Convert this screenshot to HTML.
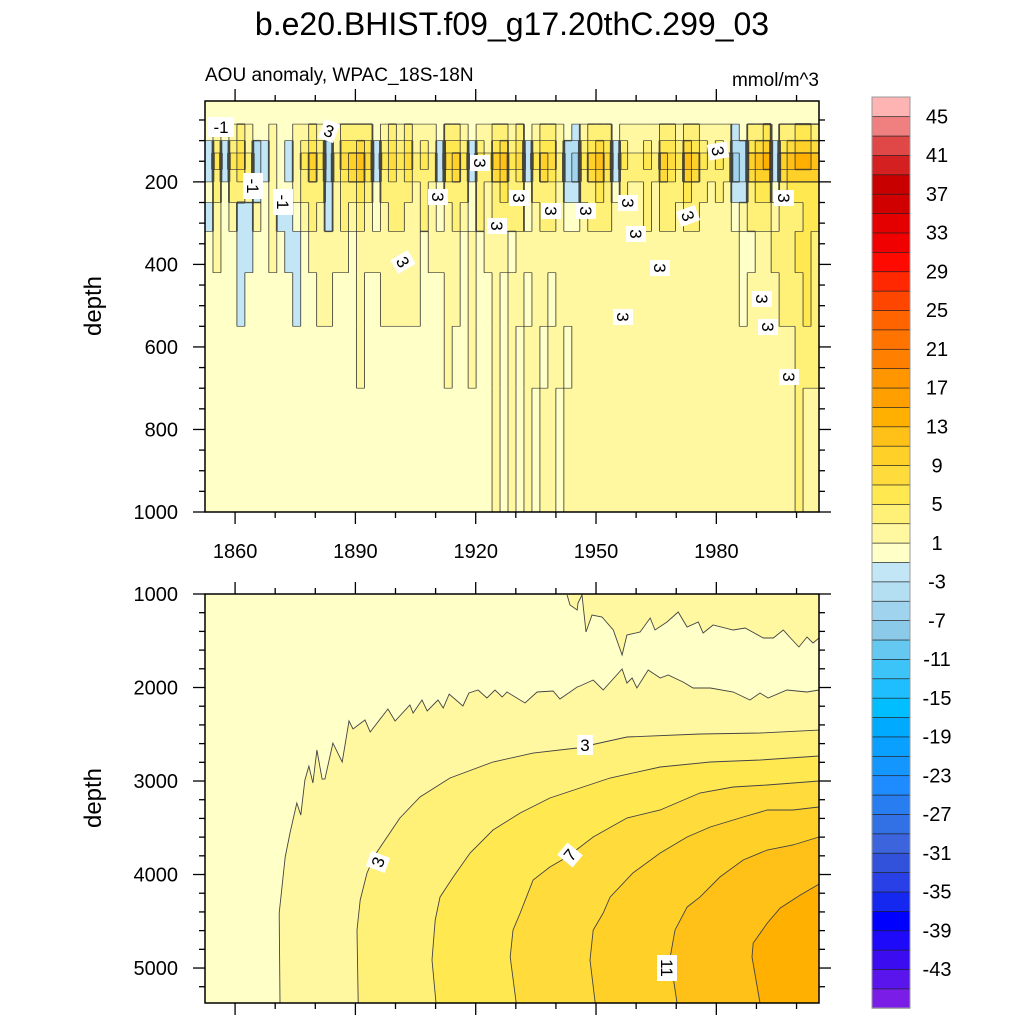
<!DOCTYPE html>
<html><head><meta charset="utf-8"><title>AOU anomaly</title>
<style>
html,body{margin:0;padding:0;background:#fff;}
svg{display:block;font-family:"Liberation Sans",sans-serif;}
</style></head>
<body>
<svg id="chart" width="1024" height="1024" viewBox="0 0 1024 1024" xmlns="http://www.w3.org/2000/svg">
<text x="512" y="35" font-size="32" text-anchor="middle">b.e20.BHIST.f09_g17.20thC.299_03</text>
<text x="205" y="81" font-size="19">AOU anomaly, WPAC_18S-18N</text>
<text x="819" y="86" font-size="19" text-anchor="end">mmol/m^3</text>
<text transform="translate(101,306) rotate(-90)" font-size="24" text-anchor="middle">depth</text>
<text transform="translate(101,798) rotate(-90)" font-size="24" text-anchor="middle">depth</text>
<g id="topPanel"></g>
<g id="botPanel"></g>
<g id="cbar"></g>
</svg>
<script>
// ---------- data ----------
const levelColors = ["#7A1DE6","#5A14EC","#3C0CF0","#1E0AF8","#0000FF","#1428F0","#2840E6","#3252DC","#3C64DC","#3270E6","#287DF0","#1E8CFF","#1496FF","#0AA0FF","#00AAFF","#00BEFF","#1EBEFF","#3CC4F8","#64C8F0","#8CCAEA","#A0D4EE","#B4DEF2","#C2E6F6","#FFFFC8","#FFF8A0","#FFF078","#FFE850","#FFDC3C","#FFD028","#FFC018","#FFB000","#FFA000","#FF9600","#FF8000","#FF7300","#FF6400","#FF4600","#FF2800","#FF0A00","#F00000","#E40000","#D00000","#C80000","#D42020","#E04848","#F08080","#FFB4B4"];
const colorbarLabels = [-43,-39,-35,-31,-27,-23,-19,-15,-11,-7,-3,1,5,9,13,17,21,25,29,33,37,41,45];
const yearTicks = [1860,1890,1920,1950,1980];
const topDepthTicks = [200,400,600,800,1000];
const botDepthTicks = [1000,2000,3000,4000,5000];
const topDepthBounds = [4,60,100,130,170,200,250,320,420,550,700,1000];
const topRow0 = [0,0,0,0,0,0,0,0,0,0,0,0,0,0,0,0,0,0,0,0,0,0,0,0,0,0,0,0,0,0,0,0,0,0,0,0,0,0,0,0,0,0,0,0,0,0,0,0,0,0,0,0,0,0,0,0,0,0,0,0,0,0,0,0,0,0,0,0,0,0,0,0,0,0,0,0,0];
const topRowA = [-1,2,-1,2,3,2,-1,-1,1,0,-1,1,2,4,2,-1,2,3,4,4,3,-1,2,3,2,3,2,2,2,-1,3,4,2,-1,2,2,4,4,2,3,-1,2,4,3,2,-1,-2,2,4,4,3,-1,2,2,2,2,2,4,3,2,4,4,2,2,2,2,-2,-1,4,4,5,-1,4,4,5,5,4];
const topRowB = [-2,4,-2,4,5,2,-4,-2,1,-1,-2,1,4,6,4,-4,2,5,6,8,5,-2,4,5,4,5,2,4,2,-2,5,6,4,-2,4,2,6,8,4,5,-2,4,6,5,2,-4,-5,4,6,8,5,-2,4,2,2,4,2,6,5,4,8,6,4,2,4,2,-5,-4,6,8,9,-2,6,8,9,9,8];
const topRowC = [-3,5,-3,5,7,3,-5,-3,1,-1,-3,1,5,9,5,-5,3,7,9,11,7,-3,5,7,5,7,3,5,3,-3,7,9,5,-3,5,3,9,11,5,7,-3,5,9,7,3,-5,-7,5,9,11,7,-3,5,3,3,5,3,9,7,5,11,9,5,3,5,3,-7,-5,9,11,13,-3,9,11,13,13,11];
const topRowD = [-2,4,-2,4,6,3,-4,-2,1,-1,-2,1,4,7,4,-4,3,6,7,9,6,-2,4,6,4,6,3,4,3,-2,6,7,4,-2,4,3,7,9,4,6,-2,4,7,6,3,-4,-6,4,7,9,6,-2,4,3,3,4,3,7,6,4,9,7,4,3,4,3,-6,-4,7,9,10,-2,7,9,10,10,9];
const topRowE = [-1,3,-1,3,4,2,-2,-1,1,-1,-1,1,3,4,3,-2,2,4,4,5,4,-1,3,4,3,4,2,3,2,-1,4,4,3,-1,3,2,4,5,3,4,-1,3,4,4,2,-2,-2,3,4,5,4,-1,3,2,2,3,2,4,4,3,5,4,3,2,3,2,-2,-2,4,5,6,-1,4,5,6,6,5];
const topRowF = [-2,1,0,2,-2,-2,1,0,2,-2,-2,0,2,3,2,-2,2,3,2,3,2,0,2,3,3,2,2,3,2,0,2,3,2,0,3,2,3,4,3,3,0,2,3,3,2,0,0,2,3,4,3,2,2,2,2,3,2,3,3,2,4,3,2,2,2,2,0,2,4,4,4,2,3,4,4,5,5];
const topRowG = [0,1,0,0,-2,-2,0,0,1,0,-2,-2,0,2,2,2,2,2,0,2,2,2,2,2,2,2,2,0,2,2,2,2,0,2,0,2,2,2,0,2,2,2,2,2,2,2,2,2,2,2,2,2,2,2,2,2,2,2,2,2,2,2,2,2,2,2,2,0,0,2,2,3,4,4,5,5,4];
const topRowH = [0,0,0,0,-2,0,0,0,0,0,0,-2,0,0,2,2,0,0,0,2,0,0,2,2,2,2,2,0,0,0,2,2,0,2,0,0,2,0,2,2,0,2,2,0,2,2,2,2,2,2,2,2,2,2,2,2,2,2,2,2,2,2,2,2,2,2,2,0,2,2,2,2,3,3,4,5,4];
const topRowI = [0,0,0,0,0,0,0,0,0,0,0,0,0,0,0,0,0,0,0,2,0,0,0,0,0,0,0,0,0,0,2,0,0,2,0,0,2,0,2,0,2,2,0,2,2,0,2,2,2,2,2,2,2,2,2,2,2,2,2,2,2,2,2,2,2,2,2,2,2,2,2,2,2,2,3,3,3];
const topRowJ = [0,0,0,0,0,0,0,0,0,0,0,0,0,0,0,0,0,0,0,0,0,0,0,0,0,0,0,0,0,0,0,0,0,0,0,0,2,0,2,0,2,0,2,2,0,2,2,2,2,2,2,2,2,2,2,2,2,2,2,2,2,2,2,2,2,2,2,2,2,2,2,2,2,2,3,2,2];
const deepContour1 = [[1871.2,5374],[1871.0,4412],[1872.5,3813],[1873.7,3556],[1875.4,3235],[1876.4,3364],[1877.4,2989],[1878.4,2840],[1879.4,3021],[1880.4,2668],[1881.7,2979],[1882.4,2979],[1884.4,2594],[1886.7,2797],[1888.4,2358],[1889.4,2444],[1892.4,2348],[1893.7,2476],[1898.1,2230],[1899.9,2358],[1903.6,2187],[1904.4,2273],[1906.6,2134],[1907.9,2251],[1910.6,2134],[1911.9,2219],[1913.4,2070],[1916.8,2198],[1918.3,2059],[1920.6,2027],[1922.8,2112],[1924.8,2027],[1926.6,2102],[1927.8,2048],[1932.3,2166],[1935.3,2048],[1939.3,2037],[1941.0,2123],[1945.3,1995],[1946.0,1984],[1949.3,1920],[1951.8,2027],[1956.5,1802],[1957.7,1952],[1959.0,1898],[1960.2,2005],[1963.0,1813],[1966.0,1898],[1968.0,1866],[1971.7,1941],[1974.2,2005],[1978.5,2005],[1984.2,2048],[1988.4,2134],[1990.9,2059],[1992.9,2112],[1997.6,2027],[2002.6,2048],[2005.6,2027]];
const deepContourTop1 = [[1942.8,1011],[1943.5,1118],[1945.3,1171],[1945.5,1096],[1946.5,1011],[1947.5,1406],[1949.0,1225],[1951.5,1246],[1954.3,1385],[1956.5,1652],[1957.7,1438],[1961.0,1406],[1963.5,1257],[1964.7,1385],[1967.7,1299],[1970.5,1193],[1972.7,1353],[1975.5,1299],[1976.7,1417],[1979.2,1332],[1984.2,1385],[1987.2,1364],[1991.7,1471],[1994.2,1471],[1996.7,1385],[1998.5,1471],[2000.6,1567],[2002.6,1460],[2004.1,1524],[2005.6,1471]];
const deepContour3 = [[1890.7,5374],[1890.4,4594],[1891.2,4273],[1892.9,3984],[1894.9,3791],[1897.9,3599],[1901.1,3396],[1906.1,3171],[1913.6,2968],[1924.3,2797],[1934.3,2701],[1945.3,2647],[1957.7,2529],[1975.9,2497],[1990.9,2487],[2005.6,2455]];
const deepContour5 = [[1910.1,5374],[1909.1,4914],[1909.9,4487],[1911.1,4241],[1914.4,4027],[1918.6,3770],[1924.3,3524],[1931.1,3342],[1938.5,3182],[1946.0,3075],[1953.5,2968],[1966.0,2850],[1978.5,2797],[1990.9,2775],[2005.6,2733]];
const deepContour7 = [[1930.1,5374],[1928.6,4882],[1929.3,4594],[1931.1,4412],[1934.3,4059],[1938.5,3920],[1942.8,3813],[1949.3,3599],[1957.7,3396],[1966.0,3310],[1975.9,3128],[1984.2,3064],[1992.7,3043],[2005.6,3000]];
const deepContour9 = [[1949.8,5374],[1948.5,4914],[1949.3,4594],[1951.8,4412],[1953.5,4241],[1959.2,3984],[1966.0,3770],[1972.7,3599],[1978.5,3492],[1986.7,3385],[1992.7,3310],[1999.1,3310],[2005.6,3278]];
const deepContour11 = [[1970.2,5374],[1968.5,4882],[1969.7,4594],[1972.7,4348],[1975.9,4241],[1980.9,4027],[1986.7,3845],[1992.7,3738],[1999.1,3684],[2005.6,3599]];
const deepContour13 = [[1990.9,5374],[1988.9,4882],[1989.2,4733],[1992.7,4519],[1995.9,4359],[2000.9,4220],[2005.6,4102]];
const deepLevels = [1,3,5,7,9,11,13];

// ---------- scales ----------
const X0=205, X1=819, YR0=1852.5, YR1=2005.6;
const TY0=101, TY1=512, TD0=4, TD1=1000;
const BY0=594, BY1=1003, BD0=1000, BD1=5374;
function xs(yr){return X0+(yr-YR0)*(X1-X0)/(YR1-YR0);}
function ysT(d){return TY0+(d-TD0)*(TY1-TY0)/(TD1-TD0);}
function ysB(d){return BY0+(d-BD0)*(BY1-BY0)/(BD1-BD0);}
function bin(v){return Math.max(0,Math.min(46,Math.floor((v+47)/2)));}
const NS="http://www.w3.org/2000/svg";
function mk(tag,attrs,parent){const e=document.createElementNS(NS,tag);for(const k in attrs)e.setAttribute(k,attrs[k]);parent.appendChild(e);return e;}

// ---------- top panel ----------
const topG=document.getElementById('topPanel');
const topRows=[topRow0,topRowA,topRowB,topRowC,topRowD,topRowE,topRowF,topRowG,topRowH,topRowI,topRowJ];
const nCol=topRowC.length;
const colW=(YR1-YR0)/nCol;
const cellG=mk('g',{},topG);


for(let r=0;r<topRows.length;r++){
  for(let i=0;i<nCol;i++){
    const xa=xs(YR0+i*colW), xb=xs(YR0+(i+1)*colW);
    const ya=ysT(topDepthBounds[r]), yb=ysT(topDepthBounds[r+1]);
    const c=mk('rect',{x:xa.toFixed(2),y:ya.toFixed(2),width:(xb-xa+0.4).toFixed(2),height:(yb-ya+0.4).toFixed(2),fill:levelColors[bin(topRows[r][i])]},cellG);
    
    
  }
}
const lineG=mk('g',{stroke:'#2a2a2a','stroke-opacity':'0.85'},topG);


for(let r=0;r<topRows.length;r++){
  for(let i=0;i<nCol;i++){
    const b=bin(topRows[r][i]);
    const xb=xs(YR0+(i+1)*colW), xa=xs(YR0+i*colW);
    if(i<nCol-1){const n=Math.abs(bin(topRows[r][i+1])-b);
      if(n>0){const l=mk('line',{x1:xb,x2:xb,y1:ysT(topDepthBounds[r]),y2:ysT(topDepthBounds[r+1]),'stroke-width':Math.min(0.9*n,4)},lineG);
        
        }}
    if(r<topRows.length-1){const n=Math.abs(bin(topRows[r+1][i])-b);
      if(n>0){const y=ysT(topDepthBounds[r+1]);const l=mk('line',{x1:xa,x2:xb,y1:y,y2:y,'stroke-width':Math.min(0.7*n,3)},lineG);
        
        }}
  }
}

// ---------- bottom panel ----------
const botG=document.getElementById('botPanel');
const bg=mk('rect',{x:X0,y:BY0,width:X1-X0,height:BY1-BY0,fill:levelColors[bin(0)]},botG);


function ptsStr(arr){return arr.map(p=>xs(p[0]).toFixed(1)+','+ysB(p[1]).toFixed(1)).join(' ');}
const deepLines=[deepContour1,deepContour3,deepContour5,deepContour7,deepContour9,deepContour11,deepContour13];
function fillRegion(line,lev,name,closeTop){
  const pts=line.slice();
  if(closeTop){pts.push([YR1,BD0]);pts.push([line[0][0],BD0]);}
  else{pts.push([YR1,BD1]);}
  const p=mk('polygon',{points:ptsStr(pts),fill:levelColors[bin(lev+1)]},botG);
  
  
}
fillRegion(deepContour1,1,'region-above-1',false);
fillRegion(deepContourTop1,1,'region-top-right-above-1',true);
for(let k=1;k<deepLines.length;k++){fillRegion(deepLines[k],deepLevels[k],'region-above-'+deepLevels[k],false);}
const cl1=mk('polyline',{points:ptsStr(deepContourTop1),fill:'none',stroke:'#444','stroke-width':0.9},botG);


for(let k=0;k<deepLines.length;k++){
  const l=mk('polyline',{points:ptsStr(deepLines[k]),fill:'none',stroke:'#444','stroke-width':0.9},botG);
  
  
}

// ---------- labels ----------
function clabel(parent,x,y,s,rot){
  const g=mk('g',{transform:'translate('+x+','+y+') rotate('+rot+')'},parent);
  
  
  const w=s.length*10+6;
  mk('rect',{x:-w/2,y:-10,width:w,height:20,fill:'#fff'},g);
  const t=mk('text',{x:0,y:6,'font-size':17,'text-anchor':'middle'},g);t.textContent=s;
}
const topLabels=[[221,127,'-1',0],[329,131,'3',20],[253,186,'-1',90],[283,202,'-1',90],[480,163,'3',90],[438,197,'3',90],[519,198,'3',90],[497,226,'3',90],[551,211,'3',90],[586,211,'3',90],[628,203,'3',90],[636,234,'3',90],[403,262,'3',60],[660,268,'3',90],[688,216,'3',70],[718,151,'3',80],[784,198,'3',90],[762,299,'3',90],[768,327,'3',90],[623,317,'3',90],[789,377,'3',90]];
topLabels.forEach(l=>clabel(topG,l[0],l[1],l[2],l[3]));
[[585,745,'3',0],[378,862,'3',-70],[570,855,'7',-50],[667,968,'11',90]].forEach(l=>clabel(botG,l[0],l[1],l[2],l[3]));

// ---------- axes ----------
function frame(parent,y0,y1,name){
  const r=mk('rect',{x:X0,y:y0,width:X1-X0,height:y1-y0,fill:'none',stroke:'#000','stroke-width':1.5},parent);
  
  
}
function tick(parent,x1,y1,x2,y2){const l=mk('line',{x1:x1,y1:y1,x2:x2,y2:y2,stroke:'#000','stroke-width':1.3},parent);
  
  }
function txt(parent,x,y,s,anchor,name){const t=mk('text',{x:x,y:y,'font-size':20,'text-anchor':anchor},parent);t.textContent=s;
  
  }
frame(topG,TY0,TY1,'upper-plot-frame');
frame(botG,BY0,BY1,'deep-plot-frame');
for(let y=1860;y<=2000;y+=10){
  const x=xs(y), major=yearTicks.includes(y), L=major?12:6;
  tick(topG,x,TY0,x,TY0-L); tick(topG,x,TY1,x,TY1+L);
  tick(botG,x,BY0,x,BY0-L); tick(botG,x,BY1,x,BY1+L);
}
yearTicks.forEach(y=>txt(topG,xs(y),558,String(y),'middle','x-tick-label'));
for(let d=50;d<=1000;d+=50){
  const y=ysT(d), major=topDepthTicks.includes(d), L=major?12:6;
  tick(topG,X0,y,X0-L,y); tick(topG,X1,y,X1+L,y);
}
topDepthTicks.forEach(d=>txt(topG,178,ysT(d)+7,String(d),'end','y-tick-label'));
for(let d=1200;d<=5200;d+=200){
  const y=ysB(d), major=botDepthTicks.includes(d), L=major?12:6;
  tick(botG,X0,y,X0-L,y); tick(botG,X1,y,X1+L,y);
}
tick(botG,X0,BY0,X0-12,BY0); tick(botG,X1,BY0,X1+12,BY0);
botDepthTicks.forEach(d=>txt(botG,178,ysB(d)+7,String(d),'end','y-tick-label'));

// ---------- colorbar ----------
const cb=document.getElementById('cbar');
const CB_X=872, CB_W=38, CB_Y0=97, CB_Y1=1008;
const boxH=(CB_Y1-CB_Y0)/levelColors.length;
for(let k=0;k<levelColors.length;k++){
  const y=CB_Y1-(k+1)*boxH;
  const r=mk('rect',{x:CB_X,y:y.toFixed(2),width:CB_W,height:(boxH+0.3).toFixed(2),fill:levelColors[k],stroke:'#222','stroke-width':0.7},cb);
  
  
}
mk('rect',{x:CB_X,y:CB_Y0,width:CB_W,height:CB_Y1-CB_Y0,fill:'none',stroke:'#999','stroke-width':1},cb);
colorbarLabels.forEach(v=>{
  const k=(v+47)/2;
  const y=CB_Y1-k*boxH;
  txt(cb,937,y+7,String(v),'middle','colorbar-label');
});
</script>
</body></html>
